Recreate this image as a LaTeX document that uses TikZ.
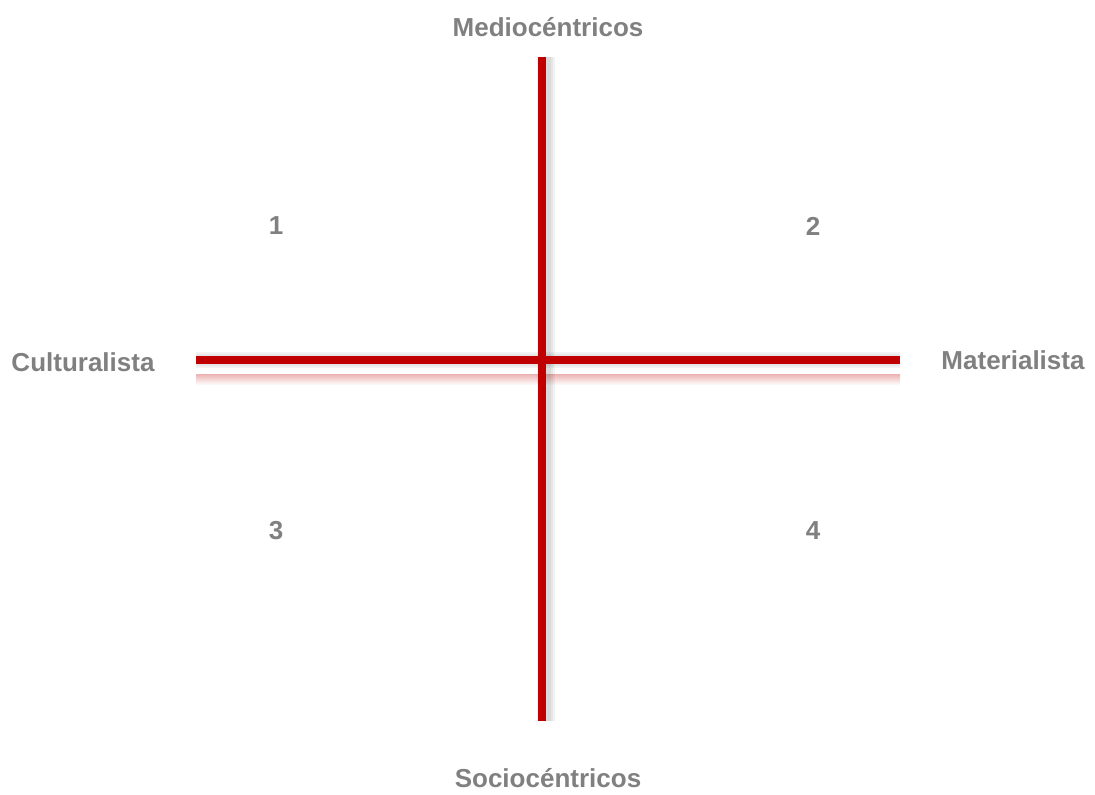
\documentclass[tikz,border=0pt]{standalone}
\usepackage{fontspec}
\setmainfont{Liberation Sans}
\definecolor{axisred}{RGB}{192,0,0}
\definecolor{labelgray}{RGB}{128,128,128}
\tikzset{
  axislabel/.style={font=\bfseries\fontsize{13}{15}\selectfont, text=labelgray},
  axisline/.style={draw=axisred, line width=4pt},
  shadowline/.style={draw=black, line width=#1, opacity=0.05},
}
\begin{document}
\begin{tikzpicture}[x=0.5pt,y=-0.5pt]
\useasboundingbox (0,0) rectangle (1095,794);
\coordinate (L) at (196,360);
\coordinate (R) at (900,360);
\coordinate (T) at (542,57);
\coordinate (B) at (542,721);
% reflection
\shade[top color=axisred!30, bottom color=white] (196,374) rectangle (900,385);
% shadows
\foreach \w in {5,7,9}
  \draw[shadowline=\w pt] ([xshift=2pt]T) -- ([xshift=2pt]B);
\foreach \w in {6,8}
  \draw[shadowline=\w pt] (L) -- (R);
\draw[axisline] (L) -- (R);
\draw[axisline] (T) -- (B);
\node[axislabel] (top) at (548,27) {Mediocéntricos};
\node[axislabel] (bottom) at (548,778) {Sociocéntricos};
\node[axislabel] (left) at (83,362) {Culturalista};
\node[axislabel] (right) at (1013,360) {Materialista};
\node[axislabel] (q1) at (276,226) {1};
\node[axislabel] (q2) at (813,226) {2};
\node[axislabel] (q3) at (276,531) {3};
\node[axislabel] (q4) at (813,531) {4};
\end{tikzpicture}
\end{document}
